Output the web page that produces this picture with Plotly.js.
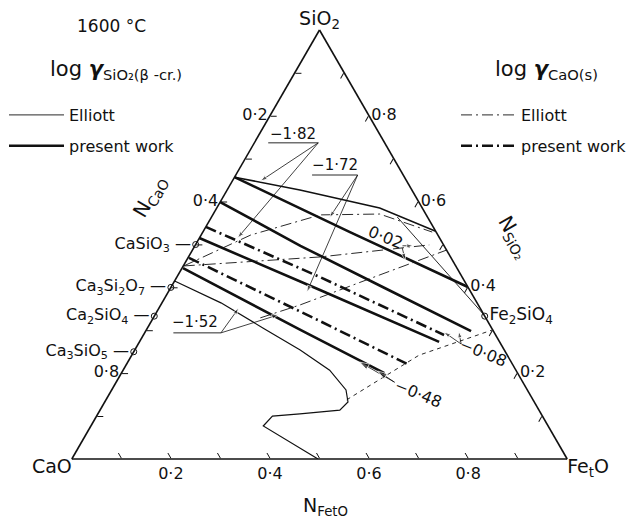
<!DOCTYPE html>
<html>
<head>
<meta charset="utf-8">
<script src="https://cdn.plot.ly/plotly-3.0.1.min.js"></script>
<style>
  html, body { margin: 0; padding: 0; background: #fff; }
  #chart { width: 642px; height: 522px; }
</style>
</head>
<body>
<div id="chart"></div>
<script>
// every point is a composition [N_SiO2, N_CaO, N_FetO]

// liquid region boundaries
const liquidusUpper = [[0.657, 0.343, 0], [0.627, 0.226, 0.147], [0.585, 0.086, 0.329], [0.531, 0, 0.469]];
const liquidusLower = [[0.415, 0.585, 0], [0.364, 0.517, 0.119], [0.305, 0.461, 0.234], [0.254, 0.412, 0.334],
  [0.207, 0.376, 0.417], [0.161, 0.366, 0.473], [0.133, 0.376, 0.491], [0.114, 0.402, 0.484],
  [0.105, 0.487, 0.408], [0.100, 0.545, 0.355], [0.077, 0.575, 0.348], [0, 0.503, 0.497]];

// log gamma SiO2 iso-lines
const sio2PresentA = [[0.657, 0.343, 0], [0.529, 0.174, 0.297], [0.401, 0, 0.599]];
const sio2PresentB = [[0.599, 0.401, 0], [0.497, 0.290, 0.213], [0.401, 0.172, 0.427], [0.298, 0.045, 0.657]];
const sio2PresentC = [[0.515, 0.485, 0], [0.394, 0.302, 0.304], [0.273, 0.122, 0.605]];
const sio2PresentD = [[0.445, 0.553, 0.002], [0.301, 0.388, 0.311], [0.200, 0.269, 0.531]];
const sio2ElliottA = [[0.564, 0.061, 0.375], [0.336, 0, 0.664]];

// log gamma CaO iso-lines
const caoPresentA = [[0.541, 0.459, 0], [0.424, 0.287, 0.289], [0.289, 0.104, 0.607]];
const caoPresentB = [[0.469, 0.529, 0.002], [0.329, 0.348, 0.323], [0.219, 0.209, 0.572]];
const caoElliottA = [[0.450, 0.549, 0.001], [0.522, 0.378, 0.100], [0.569, 0.214, 0.217], [0.571, 0.093, 0.336], [0.529, 0.008, 0.463]];
const caoElliottB = [[0.329, 0.455, 0.216], [0.359, 0.360, 0.281], [0.429, 0.164, 0.407], [0.487, 0, 0.513]];
const caoElliottC = [[0.450, 0.549, 0.001], [0.471, 0.263, 0.266], [0.499, 0.029, 0.472]];
const caoElliottD = [[0.138, 0.376, 0.486], [0.242, 0.178, 0.580], [0.301, 0, 0.699]];

// compounds on the binaries
const compoundNames = ['CaSiO<sub>3</sub> —', 'Ca<sub>3</sub>Si<sub>2</sub>O<sub>7</sub> —', 'Ca<sub>2</sub>SiO<sub>4</sub> —', 'Ca<sub>3</sub>SiO<sub>5</sub> —'];
const compoundPoints = [[0.5, 0.5, 0], [0.4, 0.6, 0], [0.333, 0.667, 0], [0.25, 0.75, 0]];
const fayalitePoint = [[0.333, 0, 0.667]];

// value labels and their leaders
const labelTexts = ['−1·82', '−1·72', '−1·52'];
const labelPoints = [[0.755, 0.176, 0.069], [0.683, 0.127, 0.190], [0.317, 0.593, 0.090]];
const underline182 = [[0.737, 0.235, 0.028], [0.737, 0.134, 0.129]];
const underline172 = [[0.662, 0.184, 0.154], [0.662, 0.092, 0.246]];
const underline152 = [[0.294, 0.648, 0.058], [0.294, 0.552, 0.154]];
const pointers = [
  [[0.737, 0.134, 0.129], [0.648, 0.295, 0.057]],
  [[0.737, 0.134, 0.129], [0.515, 0.408, 0.077]],
  [[0.662, 0.092, 0.246], [0.563, 0.198, 0.239]],
  [[0.662, 0.092, 0.246], [0.389, 0.331, 0.280]],
  [[0.294, 0.552, 0.154], [0.352, 0.487, 0.161]],
  [[0.294, 0.552, 0.154], [0.336, 0.415, 0.249]],
  [[0.497, 0.084, 0.419], [0.497, 0.062, 0.441]],
  [[0.492, 0.087, 0.421], [0.464, 0.095, 0.441]],
  [[0.268, 0.080, 0.652], [0.298, 0.070, 0.632]],
  [[0.268, 0.080, 0.652], [0.296, 0.101, 0.603]],
  [[0.179, 0.259, 0.562], [0.226, 0.306, 0.468]],
  [[0.179, 0.259, 0.562], [0.205, 0.280, 0.515]]
];

// axis ticks (a = SiO2 on left edge shows N_CaO, b = CaO on bottom shows N_FetO, c = FetO on right shows N_SiO2)
const tickVals = [0.1, 0.2, 0.3, 0.4, 0.5, 0.6, 0.7, 0.8, 0.9];
const leftTickText = ['', '0·8', '', '', '', '0·4', '', '0·2', ''];
const bottomTickText = ['', '0·8', '', '0·6', '', '0·4', '', '0·2', ''];
const rightTickText = ['', '0·8', '', '0·6', '', '0·4', '', '0·2', ''];

const FONT = 'DejaVu Sans, Arial, sans-serif';
const INK = '#111';
const DASHDOT = '11px,4px,2px,4px';

function tern(pts) {
  return { a: pts.map(p => p[0]), b: pts.map(p => p[1]), c: pts.map(p => p[2]) };
}

function lineTrace(pts, width, dash, extra) {
  return Object.assign({
    type: 'scatterternary', mode: 'lines', ...tern(pts),
    line: { color: INK, width: width, dash: dash || 'solid' },
    hoverinfo: 'skip', showlegend: false, cliponaxis: false
  }, extra || {});
}

const traces = [];

traces.push(lineTrace(liquidusUpper, 1.5));
traces.push(lineTrace(liquidusLower, 1.2));

traces.push(lineTrace(sio2ElliottA, 0.9, 'solid', { name: 'Elliott', showlegend: true, legend: 'legend', legendgroup: 's1' }));
traces.push(lineTrace(sio2PresentA, 2.6, 'solid', { name: 'present work', showlegend: true, legend: 'legend', legendgroup: 's2' }));
[sio2PresentB, sio2PresentC, sio2PresentD].forEach(l => traces.push(lineTrace(l, 2.6)));

traces.push(lineTrace(caoElliottA, 0.9, DASHDOT, { name: 'Elliott', showlegend: true, legend: 'legend2', legendgroup: 'c1' }));
traces.push(lineTrace(caoPresentA, 2.6, DASHDOT, { name: 'present work', showlegend: true, legend: 'legend2', legendgroup: 'c2' }));
traces.push(lineTrace(caoPresentB, 2.6, DASHDOT));
traces.push(lineTrace(caoElliottB, 0.9, DASHDOT));
traces.push(lineTrace(caoElliottC, 0.9, DASHDOT));
traces.push(lineTrace(caoElliottD, 0.9, '4px,4px'));

// label underlines
[underline182, underline172, underline152].forEach(u => traces.push(lineTrace(u, 0.9)));

// leaders with arrow heads
pointers.forEach((p, i) => traces.push({
  type: 'scatterternary', mode: 'lines+markers', ...tern(p),
  line: { color: INK, width: 0.8 },
  marker: { symbol: 'arrow', size: [0, i >= 10 ? 10 : 7], angleref: 'previous', color: INK },
  hoverinfo: 'skip', showlegend: false, cliponaxis: false
}));

// compounds
traces.push({
  type: 'scatterternary', mode: 'markers+text', ...tern(compoundPoints),
  text: compoundNames, textposition: 'middle left',
  textfont: { family: FONT, size: 16, color: INK },
  marker: { symbol: 'circle-open', size: 6, color: INK, line: { width: 1 } },
  hoverinfo: 'skip', showlegend: false, cliponaxis: false
});
traces.push({
  type: 'scatterternary', mode: 'markers+text', ...tern(fayalitePoint),
  text: ['Fe<sub>2</sub>SiO<sub>4</sub>'], textposition: 'middle right',
  textfont: { family: FONT, size: 17, color: INK },
  marker: { symbol: 'circle-open', size: 6, color: INK, line: { width: 1 } },
  hoverinfo: 'skip', showlegend: false, cliponaxis: false
});

// value labels
traces.push({
  type: 'scatterternary', mode: 'text', ...tern(labelPoints),
  text: labelTexts, textposition: 'middle center',
  textfont: { family: FONT, size: 15, color: INK },
  hoverinfo: 'skip', showlegend: false, cliponaxis: false
});

// corner names
const cornerPoints = [[1, 0, 0], [0, 1, 0], [0, 0, 1]];
traces.push({
  type: 'scatterternary', mode: 'text', ...tern(cornerPoints),
  text: ['SiO<sub>2</sub>', 'CaO', 'Fe<sub>t</sub>O'],
  textposition: ['top center', 'bottom left', 'bottom right'],
  textfont: { family: FONT, size: 19, color: INK },
  hoverinfo: 'skip', showlegend: false, cliponaxis: false
});

function axis(tickText) {
  return {
    title: { text: '' },
    showgrid: false, showline: true, linecolor: INK, linewidth: 1.6,
    ticks: 'inside', ticklen: 6, tickwidth: 1, tickcolor: INK,
    tickmode: 'array', tickvals: tickVals, ticktext: tickText,
    tickfont: { family: FONT, size: 16, color: INK }
  };
}

const W = 642, H = 522;
const px = x => x / W;
const py = y => 1 - y / H;

function note(text, x, y, size, angle) {
  return {
    text: text, x: px(x), y: py(y), xref: 'paper', yref: 'paper',
    showarrow: false, xanchor: 'center', yanchor: 'middle', textangle: angle || 0,
    font: { family: FONT, size: size, color: INK }
  };
}

const layout = {
  width: W, height: H,
  margin: { l: 0, r: 0, t: 0, b: 0, autoexpand: false },
  paper_bgcolor: '#fff',
  font: { family: FONT, color: INK },
  ternary: {
    sum: 1, bgcolor: '#fff',
    domain: { x: [px(70), px(569)], y: [py(459), py(30)] },
    aaxis: axis(leftTickText),
    baxis: axis(bottomTickText),
    caxis: axis(rightTickText)
  },
  legend: {
    x: px(4), y: py(98), xanchor: 'left', yanchor: 'top',
    font: { family: FONT, size: 16, color: INK }, bgcolor: 'rgba(0,0,0,0)',
    itemwidth: 55, tracegroupgap: 7
  },
  legend2: {
    x: px(456), y: py(98), xanchor: 'left', yanchor: 'top',
    font: { family: FONT, size: 16, color: INK }, bgcolor: 'rgba(0,0,0,0)',
    itemwidth: 55, tracegroupgap: 7
  },
  annotations: [
    note('1600 °C', 111, 26, 17),
    note('log <b><i>γ</i></b><sub>SiO₂(β -cr.)</sub>', 116, 70, 21),
    note('log <b><i>γ</i></b><sub>CaO(s)</sub>', 546, 70, 21),
    note('N<sub>CaO</sub>', 150, 197, 20, -60),
    note('N<sub>SiO₂</sub>', 514, 237, 20, 60),
    note('N<sub>FetO</sub>', 325, 506, 19),
    note('0·02', 386, 237, 16, 22),
    note('−0·08', 483, 352, 16, 22),
    note('−0·48', 418, 393, 16, 22)
  ]
};

Plotly.newPlot('chart', traces, layout, { displayModeBar: false, staticPlot: true });
</script>
</body>
</html>
